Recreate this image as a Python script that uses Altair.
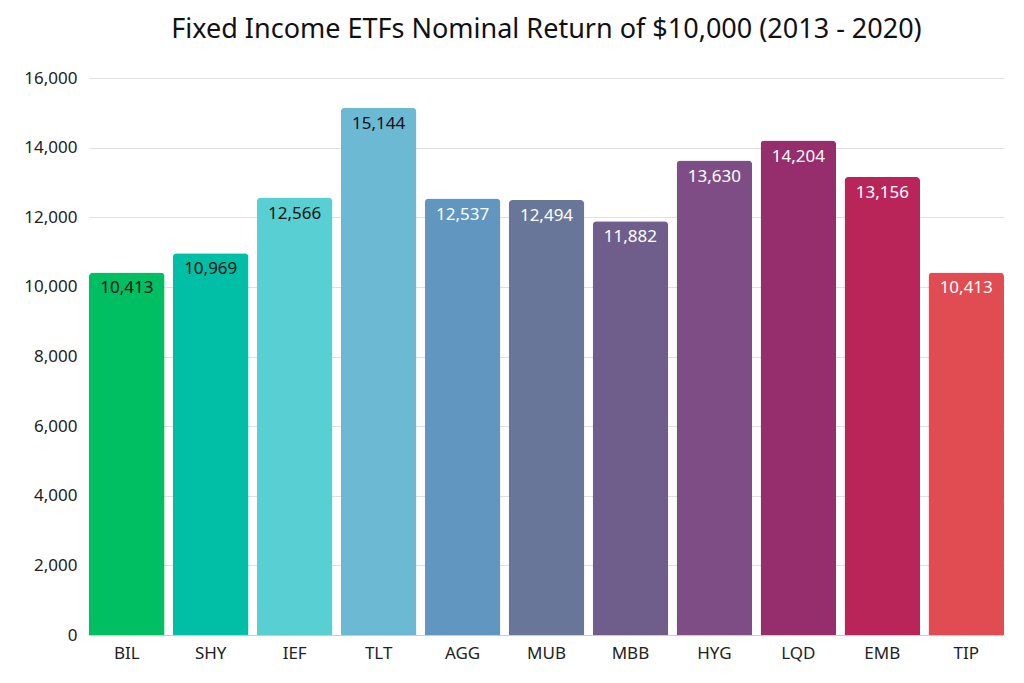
import altair as alt
import pandas as pd

tickers = ["BIL", "SHY", "IEF", "TLT", "AGG", "MUB", "MBB", "HYG", "LQD", "EMB", "TIP"]
values = [10413, 10969, 12566, 15144, 12537, 12494, 11882, 13630, 14204, 13156, 10413]
colors = ["#00BF63", "#00BFA6", "#57CFD3", "#6CB9D4", "#6096BF", "#687699",
          "#6F5E8C", "#7F4D86", "#962D6D", "#BA2559", "#E14C52"]
label_colors = ["#111111"] * 4 + ["#FFFFFF"] * 7
y_ticks = [0, 2000, 4000, 6000, 8000, 10000, 12000, 14000, 16000]

df = pd.DataFrame({"ticker": tickers, "value": values, "color": colors, "lcolor": label_colors})

FONT = "Noto Sans"

base = alt.Chart(df).encode(
    x=alt.X("ticker:N", sort=tickers, title=None,
            scale=alt.Scale(paddingInner=0.1, paddingOuter=0),
            axis=alt.Axis(labelAngle=0, labelFontSize=17, labelColor="#222222", labelFont=FONT,
                          ticks=False, labelPadding=10, domainColor="#CCCCCC", grid=False)),
    y=alt.Y("value:Q", title=None,
            scale=alt.Scale(domain=[0, 16000]),
            axis=alt.Axis(values=y_ticks, format=",.0f", labelFontSize=17,
                          labelColor="#222222", labelFont=FONT, ticks=False, domain=False,
                          labelPadding=12, gridColor="#E0E0E0")),
)

bars = base.mark_bar(cornerRadiusTopLeft=4, cornerRadiusTopRight=4).encode(
    color=alt.Color("color:N", scale=None)
)

labels = base.mark_text(baseline="top", dy=8, fontSize=17, font=FONT).encode(
    text=alt.Text("value:Q", format=",.0f"),
    color=alt.Color("lcolor:N", scale=None),
)

chart = (bars + labels).properties(
    width=915, height=557,
    title=alt.TitleParams("Fixed Income ETFs Nominal Return of $10,000 (2013 - 2020)",
                          fontSize=27, font=FONT, fontWeight="normal", color="#111111",
                          anchor="middle", offset=25),
    padding={"left": 15, "top": 8, "right": 3, "bottom": 5},
).configure_view(stroke=None)

chart.save("out.html", embed_options={"renderer": "svg", "actions": False})
